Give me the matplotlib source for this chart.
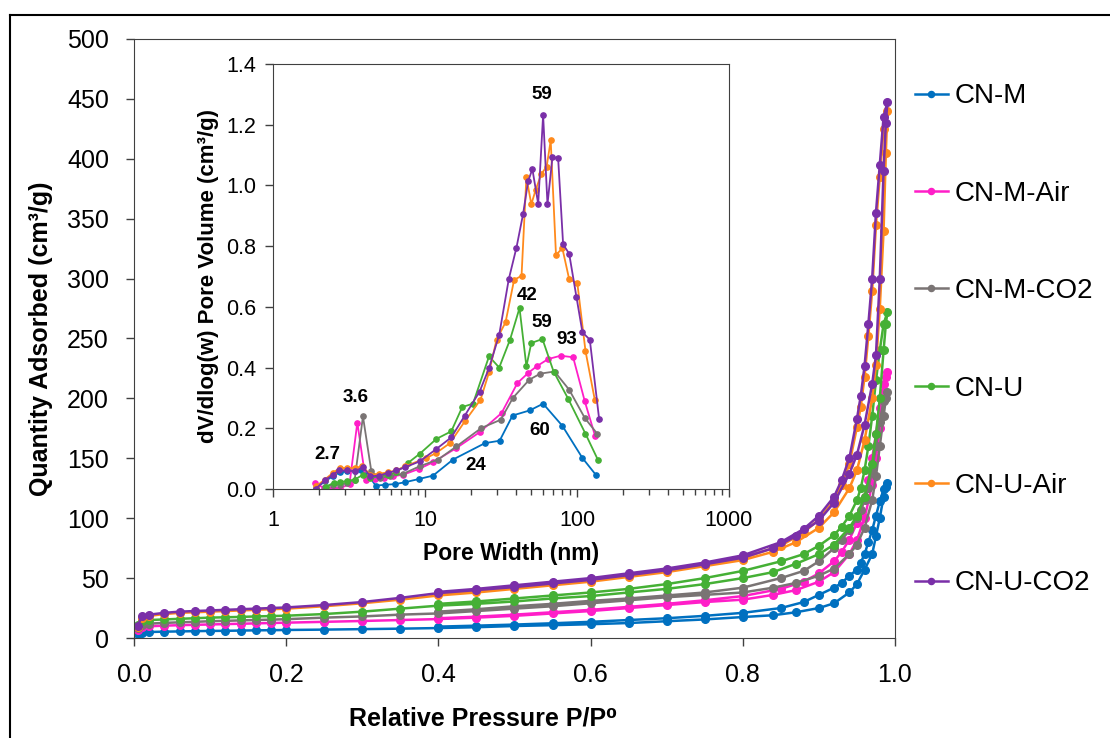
import matplotlib
matplotlib.use('Agg')
import matplotlib.pyplot as plt
from matplotlib.lines import Line2D
from matplotlib.ticker import NullFormatter, LogLocator

plt.rcParams['font.family'] = ['Liberation Sans', 'DejaVu Sans']

labels = ['CN-M', 'CN-M-Air', 'CN-M-CO2', 'CN-U', 'CN-U-Air', 'CN-U-CO2']
colors = ['#0070C0', '#FF1EC8', '#7A7474', '#45B035', '#FF8A1C', '#7A2FA8']

# isotherms: adsorption branch then desorption branch
P_ads = [0.005, 0.01, 0.02, 0.04, 0.06, 0.08, 0.10, 0.12, 0.14, 0.16, 0.18, 0.20, 0.25, 0.30, 0.35,
         0.40, 0.45, 0.50, 0.55, 0.60, 0.65, 0.70, 0.75, 0.80, 0.84, 0.87, 0.90, 0.92, 0.94, 0.95,
         0.96, 0.97, 0.975, 0.98, 0.985, 0.988, 0.99]
P_des = [0.985, 0.98, 0.975, 0.97, 0.965, 0.96, 0.955, 0.95, 0.94, 0.93, 0.92, 0.90, 0.88, 0.85,
         0.80, 0.75, 0.70, 0.65, 0.60, 0.55, 0.50, 0.45, 0.40]

cnm_ads = [3.0, 4.5, 5.0, 5.3, 5.5, 5.7, 5.9, 6.0, 6.2, 6.4, 6.5, 6.7, 7.0, 7.4, 7.8, 8.3, 9.0, 10.0,
           10.7, 11.5, 12.5, 14.0, 15.5, 17.5, 19.0, 21.5, 25.0, 29.0, 38.0, 45.0, 57.0, 70.0, 85.0,
           100.0, 118.0, 126.0, 129.0]
cnm_des = [124, 114, 102, 90, 80, 70, 63, 57, 52, 46, 42, 36, 30, 25, 21, 18.5, 16.5, 15, 13.5,
           12.3, 11.2, 10.3, 9.5]
cnm_air_ads = [7.0, 9.0, 9.8, 10.3, 10.7, 11.0, 11.3, 11.6, 11.9, 12.2, 12.5, 12.8, 13.5, 14.2, 15.0,
               15.8, 17.0, 18.5, 20.5, 22.5, 25.0, 27.5, 30.0, 32.0, 36.0, 40.0, 47.0, 55.0, 70.0,
               82.0, 100.0, 128.0, 150.0, 175.0, 205.0, 218.0, 222.0]
cnm_air_des = [212, 192, 170, 150, 132, 118, 105, 96, 82, 72, 64, 54, 47, 41, 35, 31.5, 28.5, 26,
               23.5, 21.5, 19.5, 17.8, 16.5]
cnm_co2_ads = [8.0, 11.0, 12.0, 12.6, 13.1, 13.5, 14.0, 14.3, 14.7, 15.0, 15.3, 15.7, 17.0, 18.0,
               19.5, 20.5, 22.5, 24.5, 26.5, 29.0, 31.5, 34.0, 36.0, 38.0, 42.0, 46.0, 52.0, 58.0,
               70.0, 78.0, 92.0, 115.0, 135.0, 160.0, 185.0, 200.0, 205.0]
cnm_co2_des = [198, 180, 160, 140, 125, 115, 107, 100, 90, 82, 75, 64, 56, 50, 42, 38, 35.5, 33, 31,
               28.5, 26.5, 24, 22]
cnu_ads = [11.0, 14.0, 15.0, 15.5, 16.0, 16.5, 17.0, 17.3, 17.6, 18.0, 18.3, 18.6, 20.0, 22.0, 24.5,
           27.0, 28.5, 30.5, 33.0, 35.0, 38.0, 41.0, 45.0, 50.0, 55.0, 62.0, 70.0, 78.0, 92.0, 102.0,
           118.0, 145.0, 170.0, 200.0, 240.0, 262.0, 272.0]
cnu_des = [262, 240, 215, 185, 160, 140, 125, 115, 102, 93, 86, 77, 70, 64, 56, 50, 45, 41, 38, 35.5,
           33, 30.5, 28.5]
cnu_air_ads = [9.0, 17.0, 18.5, 20.0, 21.0, 21.5, 22.0, 22.5, 23.0, 23.5, 24.0, 24.5, 26.5, 29.0,
               32.0, 35.5, 38.0, 41.0, 44.0, 47.0, 51.0, 55.0, 60.0, 65.0, 72.0, 80.0, 92.0, 105.0,
               125.0, 140.0, 165.0, 200.0, 228.0, 275.0, 340.0, 405.0, 440.0]
cnu_air_des = [425, 385, 345, 290, 252, 218, 193, 176, 145, 128, 115, 99, 88, 77, 67, 61.5, 57, 53,
               49, 46, 43, 40, 37.5]
cnu_co2_ads = [10.0, 18.0, 19.5, 21.0, 22.0, 22.5, 23.0, 23.5, 24.0, 24.5, 25.0, 25.5, 27.5, 30.0,
               33.5, 37.5, 40.0, 42.5, 45.5, 48.5, 52.5, 56.5, 61.5, 67.0, 75.0, 85.0, 98.0, 113.0,
               137.0, 153.0, 178.0, 212.0, 236.0, 300.0, 390.0, 430.0, 447.0]
cnu_co2_des = [435, 395, 355, 300, 262, 227, 202, 183, 150, 132, 118, 102, 91, 80, 69, 63, 58, 54,
               50, 47, 44, 41, 38.5]

# pore size distributions (inset)
cnm_w = [1.93, 2.19, 2.48, 2.75, 3.09, 3.45, 3.81, 4.23, 4.74, 5.49, 6.33, 7.36, 9.14, 11.3, 15.3,
         24.8, 31.0, 37.7, 49.0, 59.9, 80.2, 108.7, 133.0]
cnm_v = [0.003, 0.025, 0.042, 0.055, 0.058, 0.060, 0.061, 0.047, 0.011, 0.014, 0.016, 0.022, 0.033,
         0.044, 0.097, 0.151, 0.159, 0.242, 0.259, 0.281, 0.208, 0.102, 0.047]
cnm_air_w = [1.88, 2.17, 2.48, 2.77, 3.19, 3.59, 4.07, 4.67, 5.34, 6.16, 7.18, 9.12, 11.3, 16.1, 22.9,
             31.9, 40.6, 47.7, 54.3, 64.6, 78.1, 94.4, 112.6, 132.0]
cnm_air_v = [0.020, 0.003, 0.004, 0.003, 0.016, 0.219, 0.031, 0.033, 0.036, 0.042, 0.047, 0.066,
             0.088, 0.135, 0.187, 0.250, 0.349, 0.382, 0.404, 0.428, 0.439, 0.434, 0.289, 0.173]
cnm_co2_w = [2.19, 2.48, 2.77, 3.09, 3.45, 3.91, 4.44, 5.04, 5.85, 7.18, 9.24, 12.2, 16.1, 23.5, 31.5,
             37.9, 48.6, 57.4, 71.2, 88.9, 112.6, 136.0]
cnm_co2_v = [0.007, 0.014, 0.014, 0.020, 0.031, 0.239, 0.058, 0.036, 0.042, 0.050, 0.075, 0.097,
             0.140, 0.201, 0.228, 0.300, 0.360, 0.380, 0.387, 0.327, 0.234, 0.182]
cnu_w = [2.22, 2.51, 2.75, 3.09, 3.45, 3.91, 4.37, 4.99, 5.71, 6.48, 7.74, 9.24, 11.9, 14.9, 17.6,
         20.7, 26.4, 30.8, 36.3, 41.9, 46.5, 50.1, 59.3, 70.2, 87.6, 113.8, 138.0]
cnu_v = [0.007, 0.020, 0.022, 0.027, 0.031, 0.047, 0.036, 0.042, 0.047, 0.055, 0.086, 0.116, 0.165,
         0.190, 0.270, 0.281, 0.437, 0.400, 0.492, 0.596, 0.404, 0.481, 0.494, 0.387, 0.297, 0.182,
         0.094]
cnu_air_w = [1.93, 2.19, 2.48, 2.75, 3.09, 3.45, 3.87, 4.37, 4.99, 5.71, 6.48, 7.43, 10.2, 11.8, 14.6,
             18.3, 23.2, 26.4, 29.6, 33.9, 38.6, 43.2, 46.5, 50.1, 53.5, 58.2, 63.2, 67.2, 72.8, 80.2,
             88.9, 100.6, 113.8, 131.0]
cnu_air_v = [0.009, 0.031, 0.053, 0.069, 0.069, 0.069, 0.075, 0.047, 0.050, 0.055, 0.061, 0.075,
             0.102, 0.118, 0.151, 0.223, 0.294, 0.384, 0.492, 0.549, 0.689, 0.702, 1.027, 0.938,
             0.985, 1.037, 1.062, 1.148, 0.771, 0.793, 0.691, 0.678, 0.455, 0.294]
cnu_co2_w = [1.91, 2.19, 2.48, 2.72, 3.09, 3.45, 3.91, 4.37, 4.99, 5.71, 6.48, 7.43, 9.24, 11.9, 14.9,
             18.3, 22.9, 26.4, 30.8, 35.6, 40.0, 44.2, 47.7, 50.9, 55.6, 59.9, 64.0, 69.0, 75.2, 81.1,
             88.9, 99.3, 108.7, 121.5, 140.0]
cnu_co2_v = [0.0, 0.028, 0.047, 0.061, 0.061, 0.058, 0.072, 0.042, 0.044, 0.053, 0.061, 0.072, 0.091,
             0.132, 0.170, 0.242, 0.321, 0.398, 0.508, 0.691, 0.795, 0.905, 1.013, 1.054, 0.939,
             1.232, 0.938, 1.093, 1.090, 0.806, 0.775, 0.632, 0.516, 0.492, 0.230]

peak_text = ['59', '42', '59', '93', '60', '24', '3.6', '2.7']
peak_w = [58.6, 47.1, 58.6, 86.3, 56.5, 21.7, 3.52, 2.28]
peak_v = [1.298, 0.639, 0.548, 0.491, 0.194, 0.079, 0.301, 0.112]

ads = [cnm_ads, cnm_air_ads, cnm_co2_ads, cnu_ads, cnu_air_ads, cnu_co2_ads]
des = [cnm_des, cnm_air_des, cnm_co2_des, cnu_des, cnu_air_des, cnu_co2_des]
psd_w = [cnm_w, cnm_air_w, cnm_co2_w, cnu_w, cnu_air_w, cnu_co2_w]
psd_v = [cnm_v, cnm_air_v, cnm_co2_v, cnu_v, cnu_air_v, cnu_co2_v]

fig = plt.figure(figsize=(11.1, 7.38), dpi=100)
ax = fig.add_axes([0.1207, 0.1355, 0.6856, 0.8117])

handles = []
for a, d, c, lab in zip(ads, des, colors, labels):
    h, = ax.plot(P_ads + P_des, a + d, '-o', color=c, lw=1.8, ms=5.5, label=lab)
    handles.append(h)

ax.set_xlim(0, 1)
ax.set_ylim(0, 500)
ax.set_xticks([0, 0.2, 0.4, 0.6, 0.8, 1.0])
ax.set_xticklabels(['%.1f' % t for t in [0, 0.2, 0.4, 0.6, 0.8, 1.0]])
ax.set_yticks(range(0, 501, 50))
ax.tick_params(direction='out', length=6, width=1, labelsize=18, color='#404040')
ax.tick_params(axis='x', pad=12)
ax.tick_params(axis='y', pad=12)
for s in ax.spines.values():
    s.set_color('#404040')
ax.set_xlabel('Relative Pressure P/P\u2070', fontsize=18, fontweight='bold', labelpad=11)
ax.xaxis.set_label_coords(0.459, -0.115)
ax.set_ylabel('Quantity Adsorbed (cm\u00b3/g)', fontsize=18, fontweight='bold', labelpad=10)

# inset
ins = fig.add_axes([0.2459, 0.3374, 0.4108, 0.5759])
for w, v, c in zip(psd_w, psd_v, colors):
    ins.plot(w, v, '-o', color=c, lw=1.3, ms=3.8)
ins.set_xscale('log')
ins.set_xlim(1, 1000)
ins.set_ylim(0, 1.4)
ins.set_xticks([1, 10, 100, 1000])
ins.set_xticklabels(['1', '10', '100', '1000'])
ins.xaxis.set_minor_locator(LogLocator(base=10, subs=range(2, 10)))
ins.xaxis.set_minor_formatter(NullFormatter())
ins.set_yticks([0, 0.2, 0.4, 0.6, 0.8, 1.0, 1.2, 1.4])
ins.set_yticklabels(['%.1f' % t for t in [0, 0.2, 0.4, 0.6, 0.8, 1.0, 1.2, 1.4]])
ins.tick_params(which='major', direction='out', length=6, width=1, labelsize=15.5, color='#404040')
ins.tick_params(which='minor', direction='out', length=4, width=1, color='#404040')
ins.tick_params(axis='x', pad=9)
ins.tick_params(axis='y', pad=6)
for s in ins.spines.values():
    s.set_color('#404040')
ins.set_xlabel('Pore Width (nm)', fontsize=16.5, fontweight='bold')
ins.xaxis.set_label_coords(0.522, -0.125)
ins.set_ylabel('dV/dlog(w) Pore Volume (cm\u00b3/g)', fontsize=16, fontweight='bold', labelpad=5)
for t, x, y in zip(peak_text, peak_w, peak_v):
    ins.text(x, y, t, fontsize=13.5, fontweight='bold', ha='center', va='center')

fig.legend(handles=handles, labels=labels, loc='upper left', bbox_to_anchor=(0.824, 0.887),
           frameon=False, fontsize=20, labelspacing=2.57, handlelength=1.2, handletextpad=0.25,
           borderpad=0, borderaxespad=0, markerscale=0.8)

# outer frame
fig.add_artist(Line2D([0.009, 0.009], [0, 0.9797], transform=fig.transFigure, color='black', lw=1.5))
fig.add_artist(Line2D([0.009, 1], [0.9797, 0.9797], transform=fig.transFigure, color='black', lw=1.5))

fig.savefig('out.png', dpi=100)
